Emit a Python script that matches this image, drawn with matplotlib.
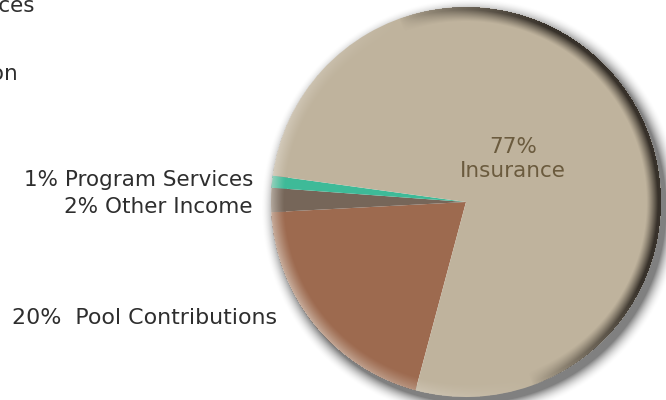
import numpy as np
import matplotlib
matplotlib.use("Agg")
import matplotlib.pyplot as plt

# ---- data ----
categories = ["Pool Contributions", "Other Income", "Program Services", "Insurance"]
shares = [20, 2, 1, 77]
colors = ["#9D6A4F", "#766659", "#3EBA98", "#BFB39D"]
side_labels = ["20%  Pool Contributions", "2% Other Income", "1% Program Services"]
inner_label = "77%\nInsurance"
cut_labels = ["Program Services", "Administration"]

W, H = 666, 400
fig = plt.figure(figsize=(W / 100, H / 100), dpi=100)
ax = fig.add_axes([0, 0, 1, 1])

cx, cy, R = 466, 198, 195

yy, xx = np.mgrid[0:H, 0:W]
py = H - 1 - yy + 0.5
px = xx + 0.5

# drop shadow behind pie
dxs, dys = px - (cx + 5), py - (cy - 6)
rs = np.sqrt(dxs**2 + dys**2) / R
sh = np.clip(1 - (rs - 1) / 0.08, 0, 1) ** 2 * (rs > 0.95)
shadow = np.zeros((H, W, 4))
shadow[..., 3] = sh * 0.5
ax.imshow(shadow, extent=(0, W, 0, H), origin="upper", zorder=1, interpolation="bilinear")

wedges, _ = ax.pie(shares, colors=colors, startangle=255, counterclock=False,
                   center=(cx, cy), radius=R, frame=True,
                   wedgeprops=dict(linewidth=0))
for w in wedges:
    w.set_zorder(2)
ax.set_xlim(0, W)
ax.set_ylim(0, H)
ax.set_aspect("equal")
ax.axis("off")

# rim shading
dx, dy = px - cx, py - cy
r = np.sqrt(dx**2 + dy**2) / R
th = np.arctan2(dy, dx)
inside = r <= 1.0
t = np.clip((r - 0.925) / 0.06, 0, 1)
dirc = np.cos(th - np.deg2rad(20))
dark_w = np.clip(dirc * 1.4, 0, 1) ** 0.7 * t ** 1.2
light_w = np.clip(-dirc, 0, 1) * np.clip((r - 0.93) / 0.07, 0, 1) ** 1.2
darkc = np.array([0.20, 0.18, 0.15])
lightc = np.array([0.93, 0.91, 0.88])
a_dark = dark_w * 0.97
a_light = light_w * 0.55
a = a_dark + a_light * (1 - a_dark)
col = (darkc[None, None, :] * a_dark[..., None]
       + lightc[None, None, :] * (a_light * (1 - a_dark))[..., None]) / np.maximum(a, 1e-6)[..., None]
ov = np.zeros((H, W, 4))
ov[..., :3] = col
ov[..., 3] = np.where(inside, a, 0)
ax.imshow(ov, extent=(0, W, 0, H), origin="upper", zorder=3, interpolation="bilinear")

font = "DejaVu Sans"
tc = "#2e2e2e"
fs = 15.5
ax.text(253, H - 180, side_labels[2], ha="right", va="center", fontsize=fs, color=tc, family=font, zorder=5)
ax.text(253, H - 207, side_labels[1], ha="right", va="center", fontsize=fs, color=tc, family=font, zorder=5)
ax.text(12, H - 318, side_labels[0], ha="left", va="center", fontsize=15.9, color=tc, family=font, zorder=5)
ax.text(34, H - 6, cut_labels[0], ha="right", va="center", fontsize=fs, color=tc, family=font, zorder=5)
ax.text(19, H - 74, cut_labels[1], ha="right", va="center", fontsize=fs, color=tc, family=font, zorder=5)
ax.text(513, H - 159, inner_label, ha="center", va="center", fontsize=fs, color="#6B5B3E",
        family=font, linespacing=1.25, zorder=5)

fig.savefig("out.png", dpi=100)
